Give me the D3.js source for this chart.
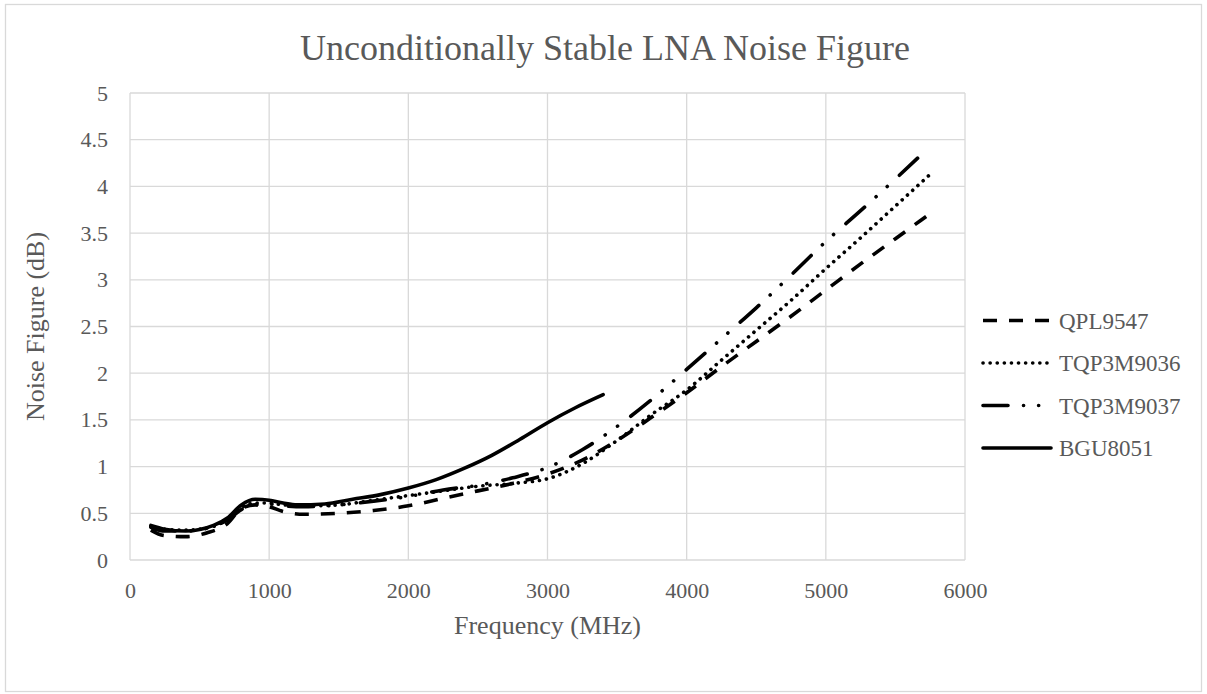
<!DOCTYPE html>
<html>
<head>
<meta charset="utf-8">
<script src="https://cdn.jsdelivr.net/npm/d3@7"></script>
<style>
  body { margin: 0; background: #fff; }
  svg text { font-family: "Liberation Serif", "Times New Roman", serif; fill: #595959; }
</style>
</head>
<body>
<div id="chart"></div>
<script>
// Chart data (frequency in MHz, noise figure in dB)
const seriesNames = ['QPL9547', 'TQP3M9036', 'TQP3M9037', 'BGU8051'];

const qplFreq = [150, 250, 400, 550, 700, 800, 900, 1000, 1100, 1250, 1500, 1750, 2000, 2250, 2500, 2750, 3000, 3250, 3500, 3750, 4000, 4250, 4500, 4750, 5000, 5250, 5500, 5750];
const qplNF = [0.32, 0.26, 0.25, 0.29, 0.39, 0.55, 0.59, 0.57, 0.52, 0.49, 0.50, 0.53, 0.58, 0.66, 0.74, 0.82, 0.92, 1.07, 1.28, 1.53, 1.79, 2.07, 2.34, 2.61, 2.89, 3.17, 3.44, 3.71];

const tqp36Freq = [150, 250, 400, 600, 700, 800, 900, 1000, 1100, 1300, 1500, 1750, 2000, 2250, 2500, 2750, 3000, 3250, 3500, 3750, 4000, 4250, 4500, 4750, 5000, 5250, 5500, 5750];
const tqp36NF = [0.36, 0.33, 0.32, 0.36, 0.44, 0.56, 0.61, 0.61, 0.59, 0.58, 0.59, 0.64, 0.69, 0.74, 0.79, 0.82, 0.87, 1.03, 1.28, 1.56, 1.82, 2.14, 2.46, 2.78, 3.12, 3.45, 3.79, 4.13];

const tqp37Freq = [150, 250, 400, 600, 700, 800, 900, 1000, 1100, 1250, 1500, 1750, 2000, 2250, 2500, 2750, 3000, 3250, 3500, 3750, 4000, 4250, 4500, 4750, 5000, 5250, 5500, 5700];
const tqp37NF = [0.35, 0.31, 0.31, 0.36, 0.43, 0.54, 0.59, 0.60, 0.58, 0.57, 0.59, 0.63, 0.68, 0.75, 0.80, 0.88, 0.99, 1.18, 1.43, 1.72, 2.04, 2.37, 2.70, 3.05, 3.41, 3.74, 4.08, 4.36];

const bguFreq = [150, 250, 400, 600, 700, 800, 900, 1000, 1100, 1200, 1400, 1600, 1800, 2000, 2200, 2400, 2600, 2800, 3000, 3200, 3400];
const bguNF = [0.37, 0.33, 0.31, 0.37, 0.45, 0.59, 0.65, 0.64, 0.61, 0.59, 0.60, 0.65, 0.70, 0.77, 0.86, 0.98, 1.12, 1.29, 1.47, 1.63, 1.77];

const xTicks = [0, 1000, 2000, 3000, 4000, 5000, 6000];
const yTicks = [0, 0.5, 1, 1.5, 2, 2.5, 3, 3.5, 4, 4.5, 5];

// Line styles per series
const lineStyles = [
  { dash: '14,12', cap: 'butt', width: 3.6 },
  { dash: '0.1,7', cap: 'round', width: 3.6 },
  { dash: '25,15.5,0.1,15,0.1,16.5', cap: 'round', width: 3.6 },
  { dash: null, cap: 'round', width: 3.6 }
];

const seriesData = [
  qplFreq.map((f, i) => ({ f, v: qplNF[i] })),
  tqp36Freq.map((f, i) => ({ f, v: tqp36NF[i] })),
  tqp37Freq.map((f, i) => ({ f, v: tqp37NF[i] })),
  bguFreq.map((f, i) => ({ f, v: bguNF[i] }))
];

const W = 1207, H = 694;
const margin = { top: 93, right: 242, bottom: 134, left: 130 };
const width = W - margin.left - margin.right;
const height = H - margin.top - margin.bottom;

const svg = d3.select('#chart')
  .append('svg')
  .attr('width', W)
  .attr('height', H);

// Chart area border
svg.append('rect')
  .attr('x', 5.5)
  .attr('y', 4.5)
  .attr('width', 1196)
  .attr('height', 687)
  .attr('fill', 'none')
  .attr('stroke', '#d9d9d9')
  .attr('stroke-width', 1.3);

// Title
svg.append('text')
  .attr('x', 605)
  .attr('y', 60)
  .attr('text-anchor', 'middle')
  .style('font-size', '36px')
  .text('Unconditionally Stable LNA Noise Figure');

const g = svg.append('g')
  .attr('transform', `translate(${margin.left},${margin.top})`);

// Set up scales
const x = d3.scaleLinear().domain([0, 6000]).range([0, width]);
const y = d3.scaleLinear().domain([0, 5]).range([height, 0]);

// Gridlines
g.append('g')
  .selectAll('line')
  .data(yTicks)
  .enter()
  .append('line')
  .attr('x1', 0)
  .attr('x2', width)
  .attr('y1', d => y(d))
  .attr('y2', d => y(d))
  .attr('stroke', '#d9d9d9')
  .attr('stroke-width', 1.3);

g.append('g')
  .selectAll('line')
  .data(xTicks)
  .enter()
  .append('line')
  .attr('x1', d => x(d))
  .attr('x2', d => x(d))
  .attr('y1', 0)
  .attr('y2', height)
  .attr('stroke', '#d9d9d9')
  .attr('stroke-width', 1.3);

// Axes (labels only, Excel style)
const xAxis = g.append('g')
  .attr('transform', `translate(0,${height})`)
  .call(d3.axisBottom(x).tickValues(xTicks).tickSize(0).tickPadding(22).tickFormat(d3.format('d')));
const yAxis = g.append('g')
  .call(d3.axisLeft(y).tickValues(yTicks).tickSize(0).tickPadding(22).tickFormat(d => d));

[xAxis, yAxis].forEach(a => {
  a.select('.domain').remove();
  a.selectAll('text')
    .style('font-size', '22px')
    .style('font-family', '"Liberation Serif", serif')
    .attr('fill', '#595959');
});

// Axis titles
svg.append('text')
  .attr('x', margin.left + width / 2)
  .attr('y', 634)
  .attr('text-anchor', 'middle')
  .style('font-size', '26px')
  .text('Frequency (MHz)');

svg.append('text')
  .attr('transform', `translate(44,${margin.top + height / 2}) rotate(-90)`)
  .attr('text-anchor', 'middle')
  .style('font-size', '26px')
  .text('Noise Figure (dB)');

// Lines
const line = d3.line()
  .x(d => x(d.f))
  .y(d => y(d.v))
  .curve(d3.curveMonotoneX);

seriesData.forEach((data, i) => {
  const s = lineStyles[i];
  g.append('path')
    .datum(data)
    .attr('fill', 'none')
    .attr('stroke', '#000')
    .attr('stroke-width', s.width)
    .attr('stroke-linecap', s.cap)
    .attr('stroke-linejoin', 'round')
    .attr('stroke-dasharray', s.dash)
    .attr('d', line);
});

// Legend
const legendY = [320.5, 363, 405.5, 448];
const legend = svg.append('g');
seriesNames.forEach((name, i) => {
  const s = lineStyles[i];
  legend.append('line')
    .attr('x1', 983)
    .attr('x2', 1051)
    .attr('y1', legendY[i])
    .attr('y2', legendY[i])
    .attr('stroke', '#000')
    .attr('stroke-width', s.width)
    .attr('stroke-linecap', s.cap)
    .attr('stroke-dasharray', s.dash);
  legend.append('text')
    .attr('x', 1059)
    .attr('y', legendY[i] + 8)
    .style('font-size', '23px')
    .text(name);
});
</script>
</body>
</html>
